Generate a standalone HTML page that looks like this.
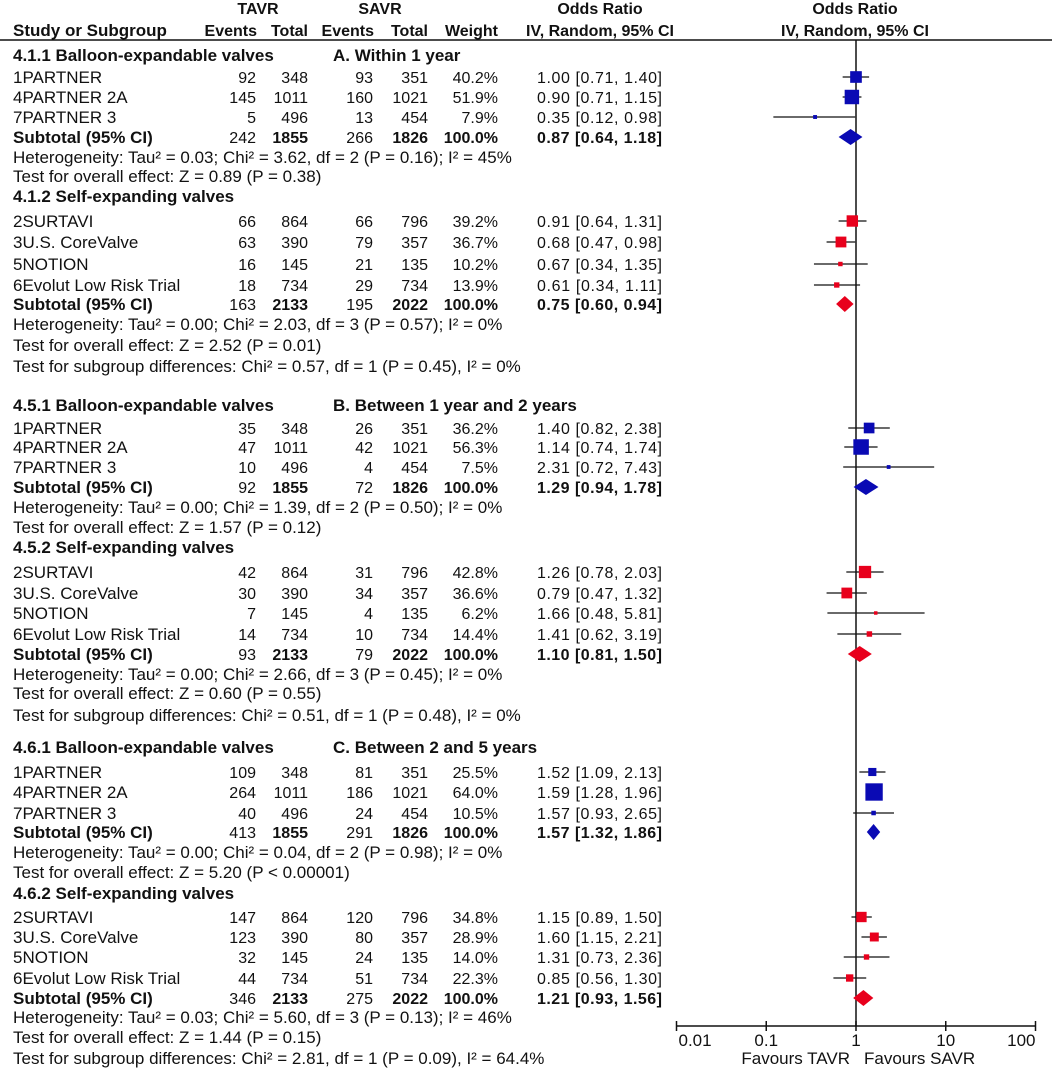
<!DOCTYPE html>
<html><head><meta charset="utf-8"><style>
html,body{margin:0;padding:0;background:#fff}
svg{display:block;font-family:"Liberation Sans",sans-serif;font-size:17px;fill:#111}
.b{font-weight:bold}
.n{font-size:16px}
.hd{font-size:16px;font-weight:bold}
</style></head><body>
<svg id="plot" width="1052" height="1069" viewBox="0 0 1052 1069" xmlns="http://www.w3.org/2000/svg">
<g class="hd">
<text x="258" y="14" text-anchor="middle">TAVR</text>
<text x="380" y="14" text-anchor="middle">SAVR</text>
<text x="600" y="14" text-anchor="middle">Odds Ratio</text>
<text x="855" y="14" text-anchor="middle">Odds Ratio</text>
<text x="13" y="36" style="font-size:17px">Study or Subgroup</text>
<text x="257" y="36" text-anchor="end">Events</text>
<text x="308" y="36" text-anchor="end">Total</text>
<text x="374" y="36" text-anchor="end">Events</text>
<text x="428" y="36" text-anchor="end">Total</text>
<text x="498" y="36" text-anchor="end">Weight</text>
<text x="600" y="36" text-anchor="middle">IV, Random, 95% CI</text>
<text x="855" y="36" text-anchor="middle">IV, Random, 95% CI</text>
</g>
<line x1="0" y1="40" x2="1052" y2="40" stroke="#111" stroke-width="1.5"/>
<g id="rows"></g>
<g id="marks"></g>
<g id="axis"></g>
</svg>
<script>
const NS="http://www.w3.org/2000/svg";
// ---- chart data ----
const studyRows=[77,97,117,221,242,264,285,428,447,467,572,593,613,634,772,792,813,917,937,957,978];
const studyOR=[1.00,0.90,0.35,0.91,0.68,0.67,0.61,1.40,1.14,2.31,1.26,0.79,1.66,1.41,1.52,1.59,1.57,1.15,1.60,1.31,0.85];
const studyLo=[0.71,0.71,0.12,0.64,0.47,0.34,0.34,0.82,0.74,0.72,0.78,0.47,0.48,0.62,1.09,1.28,0.93,0.89,1.15,0.73,0.56];
const studyHi=[1.40,1.15,0.98,1.31,0.98,1.35,1.11,2.38,1.74,7.43,2.03,1.32,5.81,3.19,2.13,1.96,2.65,1.50,2.21,2.36,1.30];
const studyWeight=[40.2,51.9,7.9,39.2,36.7,10.2,13.9,36.2,56.3,7.5,42.8,36.6,6.2,14.4,25.5,64.0,10.5,34.8,28.9,14.0,22.3];
const studyGroup=["b","b","b","r","r","r","r","b","b","b","r","r","r","r","b","b","b","r","r","r","r"];
const subRows=[137,304,487,654,832,998];
const subOR=[0.87,0.75,1.29,1.10,1.57,1.21];
const subLo=[0.64,0.60,0.94,0.81,1.32,0.93];
const subHi=[1.18,0.94,1.78,1.50,1.86,1.56];
const subGroup=["b","r","b","r","b","r"];
const tickValues=[0.01,0.1,1,10,100];
const tickLabels=["0.01","0.1","1","10","100"];
// ---- axis ----
const X0=856, DEC=89.75;
const xs=v=>X0+DEC*Math.log10(v);
const COL={b:"#0a0ab4",r:"#e8001c"};
function el(tag,attrs,parent){const e=document.createElementNS(NS,tag);for(const k in attrs)e.setAttribute(k,attrs[k]);parent.appendChild(e);return e;}
const marks=document.getElementById('marks');
const axis=document.getElementById('axis');
let nl=el('line',{x1:xs(1),y1:40,x2:xs(1),y2:1026,stroke:"#111","stroke-width":1.5},marks);


studyRows.forEach((y,i)=>{
  const l=el('line',{x1:xs(studyLo[i]),x2:xs(studyHi[i]),y1:y,y2:y,stroke:"#111","stroke-width":1.3},marks);
  
  
  const s=Math.max(3,2+studyWeight[i]*0.24);
  const r=el('rect',{x:xs(studyOR[i])-s/2,y:y-s/2,width:s,height:s,fill:COL[studyGroup[i]]},marks);
  
  
});
subRows.forEach((y,i)=>{
  const a=xs(subLo[i]),b=xs(subHi[i]),c=xs(subOR[i]),h=8;
  const p=el('polygon',{points:`${a},${y} ${c},${y-h} ${b},${y} ${c},${y+h}`,fill:COL[subGroup[i]]},marks);
  
  
});
let al=el('line',{x1:xs(0.01),x2:xs(100),y1:1026,y2:1026,stroke:"#111","stroke-width":1.5},axis);


tickValues.forEach((v,i)=>{
  const t=el('line',{x1:xs(v),x2:xs(v),y1:1021,y2:1031,stroke:"#111","stroke-width":1.5},axis);
  
  
  const anchor=i===0?"start":(i===tickValues.length-1?"end":"middle");
  const tx=el('text',{x:xs(v)+(i===0?2:0),y:1046,"text-anchor":anchor},axis);
  tx.textContent=tickLabels[i];
  
  
});
let f1=el('text',{x:850,y:1064,"text-anchor":"end"},axis);f1.textContent="Favours TAVR";


let f2=el('text',{x:864,y:1064},axis);f2.textContent="Favours SAVR";


// ---- table text ----
const rowsG=document.getElementById('rows');
const T=[
 [55,"h","4.1.1 Balloon-expandable valves"],
 [77,"s","1PARTNER","92","348","93","351","40.2%","1.00 [0.71, 1.40]"],
 [97,"s","4PARTNER 2A","145","1011","160","1021","51.9%","0.90 [0.71, 1.15]"],
 [117,"s","7PARTNER 3","5","496","13","454","7.9%","0.35 [0.12, 0.98]"],
 [137,"t","Subtotal (95% CI)","242","1855","266","1826","100.0%","0.87 [0.64, 1.18]"],
 [157,"x","Heterogeneity: Tau² = 0.03; Chi² = 3.62, df = 2 (P = 0.16); I² = 45%"],
 [176,"x","Test for overall effect: Z = 0.89 (P = 0.38)"],
 [196,"h","4.1.2 Self-expanding valves"],
 [221,"s","2SURTAVI","66","864","66","796","39.2%","0.91 [0.64, 1.31]"],
 [242,"s","3U.S. CoreValve","63","390","79","357","36.7%","0.68 [0.47, 0.98]"],
 [264,"s","5NOTION","16","145","21","135","10.2%","0.67 [0.34, 1.35]"],
 [285,"s","6Evolut Low Risk Trial","18","734","29","734","13.9%","0.61 [0.34, 1.11]"],
 [304,"t","Subtotal (95% CI)","163","2133","195","2022","100.0%","0.75 [0.60, 0.94]"],
 [324,"x","Heterogeneity: Tau² = 0.00; Chi² = 2.03, df = 3 (P = 0.57); I² = 0%"],
 [345,"x","Test for overall effect: Z = 2.52 (P = 0.01)"],
 [366,"x","Test for subgroup differences: Chi² = 0.57, df = 1 (P = 0.45), I² = 0%"],
 [405,"h","4.5.1 Balloon-expandable valves"],
 [428,"s","1PARTNER","35","348","26","351","36.2%","1.40 [0.82, 2.38]"],
 [447,"s","4PARTNER 2A","47","1011","42","1021","56.3%","1.14 [0.74, 1.74]"],
 [467,"s","7PARTNER 3","10","496","4","454","7.5%","2.31 [0.72, 7.43]"],
 [487,"t","Subtotal (95% CI)","92","1855","72","1826","100.0%","1.29 [0.94, 1.78]"],
 [507,"x","Heterogeneity: Tau² = 0.00; Chi² = 1.39, df = 2 (P = 0.50); I² = 0%"],
 [527,"x","Test for overall effect: Z = 1.57 (P = 0.12)"],
 [547,"h","4.5.2 Self-expanding valves"],
 [572,"s","2SURTAVI","42","864","31","796","42.8%","1.26 [0.78, 2.03]"],
 [593,"s","3U.S. CoreValve","30","390","34","357","36.6%","0.79 [0.47, 1.32]"],
 [613,"s","5NOTION","7","145","4","135","6.2%","1.66 [0.48, 5.81]"],
 [634,"s","6Evolut Low Risk Trial","14","734","10","734","14.4%","1.41 [0.62, 3.19]"],
 [654,"t","Subtotal (95% CI)","93","2133","79","2022","100.0%","1.10 [0.81, 1.50]"],
 [674,"x","Heterogeneity: Tau² = 0.00; Chi² = 2.66, df = 3 (P = 0.45); I² = 0%"],
 [693,"x","Test for overall effect: Z = 0.60 (P = 0.55)"],
 [715,"x","Test for subgroup differences: Chi² = 0.51, df = 1 (P = 0.48), I² = 0%"],
 [747,"h","4.6.1 Balloon-expandable valves"],
 [772,"s","1PARTNER","109","348","81","351","25.5%","1.52 [1.09, 2.13]"],
 [792,"s","4PARTNER 2A","264","1011","186","1021","64.0%","1.59 [1.28, 1.96]"],
 [813,"s","7PARTNER 3","40","496","24","454","10.5%","1.57 [0.93, 2.65]"],
 [832,"t","Subtotal (95% CI)","413","1855","291","1826","100.0%","1.57 [1.32, 1.86]"],
 [852,"x","Heterogeneity: Tau² = 0.00; Chi² = 0.04, df = 2 (P = 0.98); I² = 0%"],
 [872,"x","Test for overall effect: Z = 5.20 (P < 0.00001)"],
 [893,"h","4.6.2 Self-expanding valves"],
 [917,"s","2SURTAVI","147","864","120","796","34.8%","1.15 [0.89, 1.50]"],
 [937,"s","3U.S. CoreValve","123","390","80","357","28.9%","1.60 [1.15, 2.21]"],
 [957,"s","5NOTION","32","145","24","135","14.0%","1.31 [0.73, 2.36]"],
 [978,"s","6Evolut Low Risk Trial","44","734","51","734","22.3%","0.85 [0.56, 1.30]"],
 [998,"t","Subtotal (95% CI)","346","2133","275","2022","100.0%","1.21 [0.93, 1.56]"],
 [1017,"x","Heterogeneity: Tau² = 0.03; Chi² = 5.60, df = 3 (P = 0.13); I² = 46%"],
 [1037,"x","Test for overall effect: Z = 1.44 (P = 0.15)"],
 [1058,"x","Test for subgroup differences: Chi² = 2.81, df = 1 (P = 0.09), I² = 64.4%"]
];
const colX=[256,308,373,428,498];
function txt(x,y,s,cls,anchor){
  const t=el('text',{x:x,y:y+6},rowsG);
  if(anchor)t.setAttribute('text-anchor',anchor);
  if(cls)t.setAttribute('class',cls);
  t.textContent=s;return t;
}
T.forEach(r=>{
  const y=r[0],k=r[1];
  if(k==="h"||k==="x"){
    const t=txt(13,y,r[2],k==="h"?"b":"");
    
    
    return;
  }
  const n=txt(13,y,r[2],k==="t"?"b":"");
  
  
  for(let j=0;j<5;j++){
    const bold=k==="t"&&(j===1||j===3||j===4);
    const c=txt(colX[j],y,r[3+j],bold?"n b":"n","end");
    
    
  }
  const ci=txt(537,y,r[8],k==="t"?"n b":"n");
  ci.setAttribute('textLength','125');
  
  
});
[[55,"A. Within 1 year"],[405,"B. Between 1 year and 2 years"],[747,"C. Between 2 and 5 years"]].forEach(p=>{
  const t=txt(333,p[0],p[1],"b");
  
  
});
</script>
</body></html>
